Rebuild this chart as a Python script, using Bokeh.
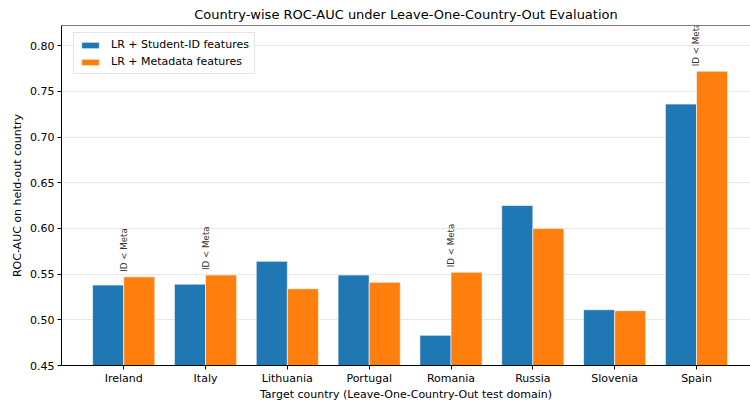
from bokeh.plotting import figure
from bokeh.models import Range1d, FixedTicker, ColumnDataSource, Legend, LegendItem, Span
from bokeh.embed import file_html
from bokeh.resources import INLINE
from bokeh.core.properties import value

countries = ["Ireland", "Italy", "Lithuania", "Portugal", "Romania", "Russia", "Slovenia", "Spain"]
auc_student_id = [0.538, 0.539, 0.564, 0.549, 0.483, 0.625, 0.511, 0.736]
auc_metadata = [0.547, 0.549, 0.534, 0.541, 0.552, 0.600, 0.510, 0.772]
annotation_text = "ID < Meta"
y_ticks = [0.45, 0.50, 0.55, 0.60, 0.65, 0.70, 0.75, 0.80]

FONT = "DejaVu Sans"
BLUE = "#1f77b4"
ORANGE = "#ff7f0e"
W = 0.38

idx = list(range(len(countries)))
src = ColumnDataSource(dict(
    x_id=[i - W / 2 for i in idx],
    x_meta=[i + W / 2 for i in idx],
    id_v=auc_student_id,
    meta_v=auc_metadata,
))

y_start, y_end = 0.45, 0.822

p = figure(width=750, height=403, output_backend="svg", toolbar_location=None,
           x_range=Range1d(-0.76, 7.66), y_range=Range1d(y_start, y_end),
           min_border_left=61, min_border_right=0, min_border_bottom=38, min_border_top=0)

r1 = p.vbar(x="x_id", top="id_v", bottom=y_start, width=W, source=src,
            fill_color=BLUE, line_color="white", line_alpha=0.6, line_width=1)
r2 = p.vbar(x="x_meta", top="meta_v", bottom=y_start, width=W, source=src,
            fill_color=ORANGE, line_color="white", line_alpha=0.6, line_width=1)

# annotations where Student-ID < Metadata
ann_x, ann_y = [], []
for i, (a, b) in enumerate(zip(auc_student_id, auc_metadata)):
    if a < b:
        ann_x.append(i)
        ann_y.append(max(a, b))
ann_src = ColumnDataSource(dict(x=ann_x, y=ann_y, t=[annotation_text] * len(ann_x)))
p.text(x="x", y="y", text="t", source=ann_src, angle=1.5708, y_offset=-5,
       text_font=value(FONT), text_font_size="8.7px", text_color="#333333",
       text_align="left", text_baseline="middle")

# title
p.title.text = "Country-wise ROC-AUC under Leave-One-Country-Out Evaluation"
p.title.align = "center"
p.title.text_font = FONT
p.title.text_font_size = "13px"
p.title.text_font_style = "normal"
p.title.text_color = "#000000"
p.title.standoff = 8
p.title.offset = 0

# axes
p.xaxis.ticker = FixedTicker(ticks=idx)
p.xaxis.major_label_overrides = {i: c for i, c in enumerate(countries)}
p.yaxis.ticker = FixedTicker(ticks=y_ticks)
p.yaxis.major_label_overrides = {t: f"{t:.2f}" for t in y_ticks}
p.xaxis.axis_label = "Target country (Leave-One-Country-Out test domain)"
p.yaxis.axis_label = "ROC-AUC on held-out country"
for ax in (p.xaxis, p.yaxis):
    ax.axis_label_text_font = FONT
    ax.axis_label_text_font_size = "11px"
    ax.axis_label_text_font_style = "normal"
    ax.axis_label_text_color = "#000000"
    ax.major_label_text_font = FONT
    ax.major_label_text_font_size = "11px"
    ax.major_label_text_color = "#000000"
    ax.minor_tick_line_color = None
    ax.major_tick_in = 0
    ax.major_tick_out = 4
    ax.axis_line_color = "#000000"
    ax.major_tick_line_color = "#000000"
p.xaxis.major_label_standoff = 2
p.xaxis.axis_label_standoff = 0
p.yaxis.major_label_standoff = 3
p.yaxis.axis_label_standoff = 3

p.xgrid.grid_line_color = None
p.ygrid.ticker = FixedTicker(ticks=y_ticks[1:])
p.ygrid.grid_line_color = "#b0b0b0"
p.ygrid.grid_line_alpha = 0.3
p.outline_line_color = None
p.add_layout(Span(location=y_end, dimension="width", line_color="#000000", line_width=1))

legend = Legend(items=[
    LegendItem(label="LR + Student-ID features", renderers=[r1]),
    LegendItem(label="LR + Metadata features", renderers=[r2]),
], location=(12, 291))
legend.label_text_font = FONT
legend.label_text_font_size = "11px"
legend.label_text_color = "#000000"
legend.glyph_width = 22
legend.glyph_height = 8
legend.label_height = 13
legend.spacing = 4
legend.padding = 5
legend.margin = 0
legend.label_standoff = 10
legend.border_line_color = "#cccccc"
legend.border_line_width = 1
legend.background_fill_alpha = 0.8
p.add_layout(legend)

open("out.html", "w").write(file_html(p, INLINE))
